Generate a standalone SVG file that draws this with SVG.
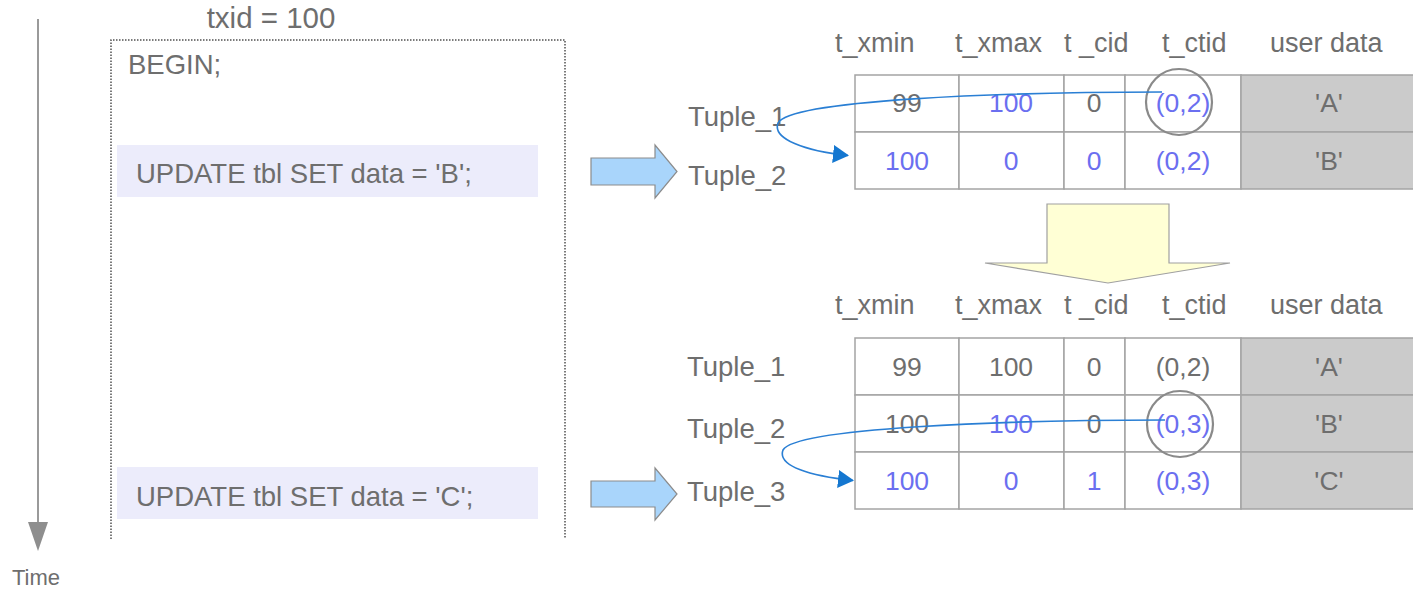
<svg xmlns="http://www.w3.org/2000/svg" width="1413" height="589" viewBox="0 0 1413 589">
  <defs>
    <style>
      text { font-family: "Liberation Sans", Arial, sans-serif; fill: #6e6e6e; }
      .lbl { font-size: 27.5px; }
      .hdr { font-size: 27px; }
      .val { font-size: 26.5px; text-anchor: middle; }
      .new { fill: #6b6ff0; }
      .cell { fill: #ffffff; stroke: #a4a4a4; stroke-width: 1.5; }
      .data { fill: #cbcbcb; stroke: #a4a4a4; stroke-width: 1.5; }
      .stmt { fill: #ececfb; }
      .bigarrow { fill: #a9d5fb; stroke: #8c8c8c; stroke-width: 1.2; }
      .down { fill: #ffffd5; stroke: #a0a0a0; stroke-width: 1.2; }
      .ring { fill: none; stroke: #8a8a8a; stroke-width: 2.2; }
      .link { fill: none; stroke: #2a7fd4; stroke-width: 1.6; }
    </style>
    <marker id="tip" markerUnits="userSpaceOnUse" viewBox="0 0 16 18" markerWidth="16" markerHeight="18" refX="15" refY="9" orient="auto">
      <path d="M0,0 L16,9 L0,18 z" fill="#1477d0"/>
    </marker>
  </defs>

  <!-- time axis -->
  <g id="time-axis">
    <line x1="38" y1="19" x2="38" y2="523" stroke="#9a9a9a" stroke-width="2"/>
    <polygon points="28,522 48,522 38,551" fill="#8e8e8e"/>
    <text x="12" y="585" style="font-size:22px">Time</text>
  </g>

  <!-- transaction txid = 100 -->
  <g id="transaction">
    <text x="271" y="28" text-anchor="middle" style="font-size:29.5px">txid = 100</text>
    <path d="M111,539 V40 H565 V539" fill="none" stroke="#505050" stroke-width="1.5" stroke-dasharray="1.5,1.5"/>
    <text x="128" y="74" class="lbl">BEGIN;</text>
  </g>

  <g id="update-b">
    <rect class="stmt" x="117" y="145" width="421" height="52"/>
    <text x="136" y="183" class="lbl">UPDATE tbl SET data = 'B';</text>
  </g>

  <g id="update-c">
    <rect class="stmt" x="117" y="467" width="421" height="52"/>
    <text x="136" y="506" class="lbl">UPDATE tbl SET data = 'C';</text>
  </g>

  <!-- block arrows -->
  <g id="arrow-b">
    <polygon class="bigarrow" points="591,158 655,158 655,145 677,171.5 655,198 655,185 591,185"/>
  </g>
  <g id="arrow-c">
    <polygon class="bigarrow" points="591,481 655,481 655,468 677,494 655,520 655,507 591,507"/>
  </g>
  <g id="arrow-next">
    <polygon class="down" points="1047,204 1169,204 1169,263 1230,263 1108,283 985,263 1047,263"/>
  </g>

  <!-- page state after UPDATE ... 'B' -->
  <g id="table-1">
    <text x="835" y="52" class="hdr">t_xmin</text>
    <text x="955" y="52" class="hdr">t_xmax</text>
    <text x="1064" y="52" class="hdr">t _cid</text>
    <text x="1162" y="52" class="hdr">t_ctid</text>
    <text x="1270" y="52" class="hdr">user data</text>

    <text x="688" y="126" class="lbl">Tuple_1</text>
    <text x="688" y="185" class="lbl">Tuple_2</text>

    <rect class="cell" x="855" y="75" width="104" height="57"/>
    <rect class="cell" x="959" y="75" width="105" height="57"/>
    <rect class="cell" x="1064" y="75" width="61" height="57"/>
    <rect class="cell" x="1125" y="75" width="116" height="57"/>
    <rect class="data" x="1241" y="75" width="190" height="57"/>
    <rect class="cell" x="855" y="132" width="104" height="57"/>
    <rect class="cell" x="959" y="132" width="105" height="57"/>
    <rect class="cell" x="1064" y="132" width="61" height="57"/>
    <rect class="cell" x="1125" y="132" width="116" height="57"/>
    <rect class="data" x="1241" y="132" width="190" height="57"/>

    <text x="907" y="112" class="val">99</text>
    <text x="1011" y="112" class="val new">100</text>
    <text x="1094" y="112" class="val">0</text>
    <text x="1183" y="112" class="val new">(0,2)</text>
    <text x="1329" y="112" class="val">'A'</text>

    <text x="907" y="170" class="val new">100</text>
    <text x="1011" y="170" class="val new">0</text>
    <text x="1094" y="170" class="val new">0</text>
    <text x="1183" y="170" class="val new">(0,2)</text>
    <text x="1329" y="170" class="val">'B'</text>

    <circle class="ring" cx="1179" cy="102" r="33"/>
  </g>

  <!-- page state after UPDATE ... 'C' -->
  <g id="table-2">
    <text x="835" y="314" class="hdr">t_xmin</text>
    <text x="955" y="314" class="hdr">t_xmax</text>
    <text x="1064" y="314" class="hdr">t _cid</text>
    <text x="1162" y="314" class="hdr">t_ctid</text>
    <text x="1270" y="314" class="hdr">user data</text>

    <text x="687" y="376" class="lbl">Tuple_1</text>
    <text x="687" y="438" class="lbl">Tuple_2</text>
    <text x="687" y="501" class="lbl">Tuple_3</text>

    <rect class="cell" x="855" y="338" width="104" height="57"/>
    <rect class="cell" x="959" y="338" width="105" height="57"/>
    <rect class="cell" x="1064" y="338" width="61" height="57"/>
    <rect class="cell" x="1125" y="338" width="116" height="57"/>
    <rect class="data" x="1241" y="338" width="190" height="57"/>
    <rect class="cell" x="855" y="395" width="104" height="57"/>
    <rect class="cell" x="959" y="395" width="105" height="57"/>
    <rect class="cell" x="1064" y="395" width="61" height="57"/>
    <rect class="cell" x="1125" y="395" width="116" height="57"/>
    <rect class="data" x="1241" y="395" width="190" height="57"/>
    <rect class="cell" x="855" y="452" width="104" height="57"/>
    <rect class="cell" x="959" y="452" width="105" height="57"/>
    <rect class="cell" x="1064" y="452" width="61" height="57"/>
    <rect class="cell" x="1125" y="452" width="116" height="57"/>
    <rect class="data" x="1241" y="452" width="190" height="57"/>

    <text x="907" y="376" class="val">99</text>
    <text x="1011" y="376" class="val">100</text>
    <text x="1094" y="376" class="val">0</text>
    <text x="1183" y="376" class="val">(0,2)</text>
    <text x="1329" y="376" class="val">'A'</text>

    <text x="907" y="433" class="val">100</text>
    <text x="1011" y="433" class="val new">100</text>
    <text x="1094" y="433" class="val">0</text>
    <text x="1183" y="433" class="val new">(0,3)</text>
    <text x="1329" y="433" class="val">'B'</text>

    <text x="907" y="490" class="val new">100</text>
    <text x="1011" y="490" class="val new">0</text>
    <text x="1094" y="490" class="val new">1</text>
    <text x="1183" y="490" class="val new">(0,3)</text>
    <text x="1329" y="490" class="val">'C'</text>

    <circle class="ring" cx="1180" cy="424" r="33"/>
  </g>

  <!-- t_ctid pointers to the newer tuple versions -->
  <g id="connectors">
    <path class="link" d="M1162,92 C1000,92 790,100 778,123 C772,139 805,151 848,155.5" marker-end="url(#tip)"/>
    <path class="link" d="M1165,420 C1003,420 795,428 783,450 C777,466 810,476 853,480.5" marker-end="url(#tip)"/>
  </g>
</svg>
